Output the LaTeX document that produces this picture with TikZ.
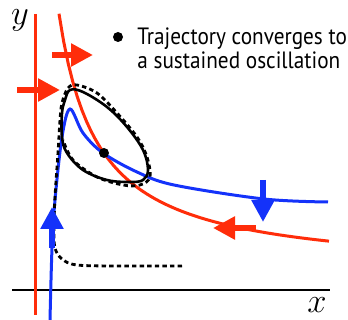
\documentclass[tikz,border=0pt]{standalone}
\usepackage{fontspec}
\setmainfont{PT Sans}[FakeStretch=0.9]
\usetikzlibrary{arrows.meta,positioning}
\definecolor{nullred}{RGB}{255,45,10}
\definecolor{nullblue}{RGB}{20,50,250}
\tikzset{
  curve/.style={line width=1.5pt},
  flow/.style={line width=3pt,-{Triangle[length=11pt,width=11pt]}},
  axislabel/.style={inner sep=0pt,anchor=base,font=\fontsize{18}{18}\selectfont},
}
\begin{document}
\begin{tikzpicture}[x=.5pt,y=-.5pt]
\useasboundingbox (0,0) rectangle (348,320);
% axis and labels
\draw[line width=1pt] (12,290) -- (330,290);
\node[axislabel] (ylab) at (20,25) {$y$};
\node[axislabel] (xlab) at (317,313) {$x$};
% nullclines
\draw[nullred,curve] (35,14) -- (35,315);
\draw[nullred,curve] plot[domain=59:329,samples=60] (\x,{274-10150/(\x-20)});
\draw[nullblue,curve] plot[smooth,tension=.55] coordinates {(50,320) (52,248) (55,200) (62,137) (70,109) (83,133) (103,153) (137,172) (174,185) (264,199) (328,202)};
% limit cycle
\draw[line width=1.3pt] plot[smooth cycle,tension=.6] coordinates {(70,90) (83,92) (107,107) (127,127) (143,150) (148,170) (143,180) (130,182) (107,180) (83,170) (67,153) (62,137) (62,113) (65,100)};
% trajectory
\draw[line width=1.4pt,dash pattern=on 2.2pt off 1.6pt] plot[smooth,tension=.55] coordinates {(182,266) (120,266) (77,265) (62,259) (55,248) (54,228) (55,197) (58,153) (60,120) (62,103) (68,88) (77,85) (97,93) (117,113) (137,137) (147,157) (150,177) (140,185) (123,185) (97,177) (73,160) (63,140)};
\fill (104,153) circle[radius=2.5pt];
% directions
\draw[nullred,flow] (52,55) -- (93,55);
\draw[nullred,flow] (17,90) -- (60,90);
\draw[nullred,flow] (256,228) -- (213,228);
\draw[nullblue,flow] (52,248) -- (52,207);
\draw[nullblue,flow] (263,180) -- (263,222);
% note
\node[circle,fill,inner sep=0pt,minimum size=5pt] (dot) at (118,37) {};
\node[anchor=north west,inner sep=0pt,align=left,font=\fontsize{11.8}{12}\selectfont] (note) at (137,27) {Trajectory converges to\\a sustained oscillation};
\end{tikzpicture}
\end{document}
